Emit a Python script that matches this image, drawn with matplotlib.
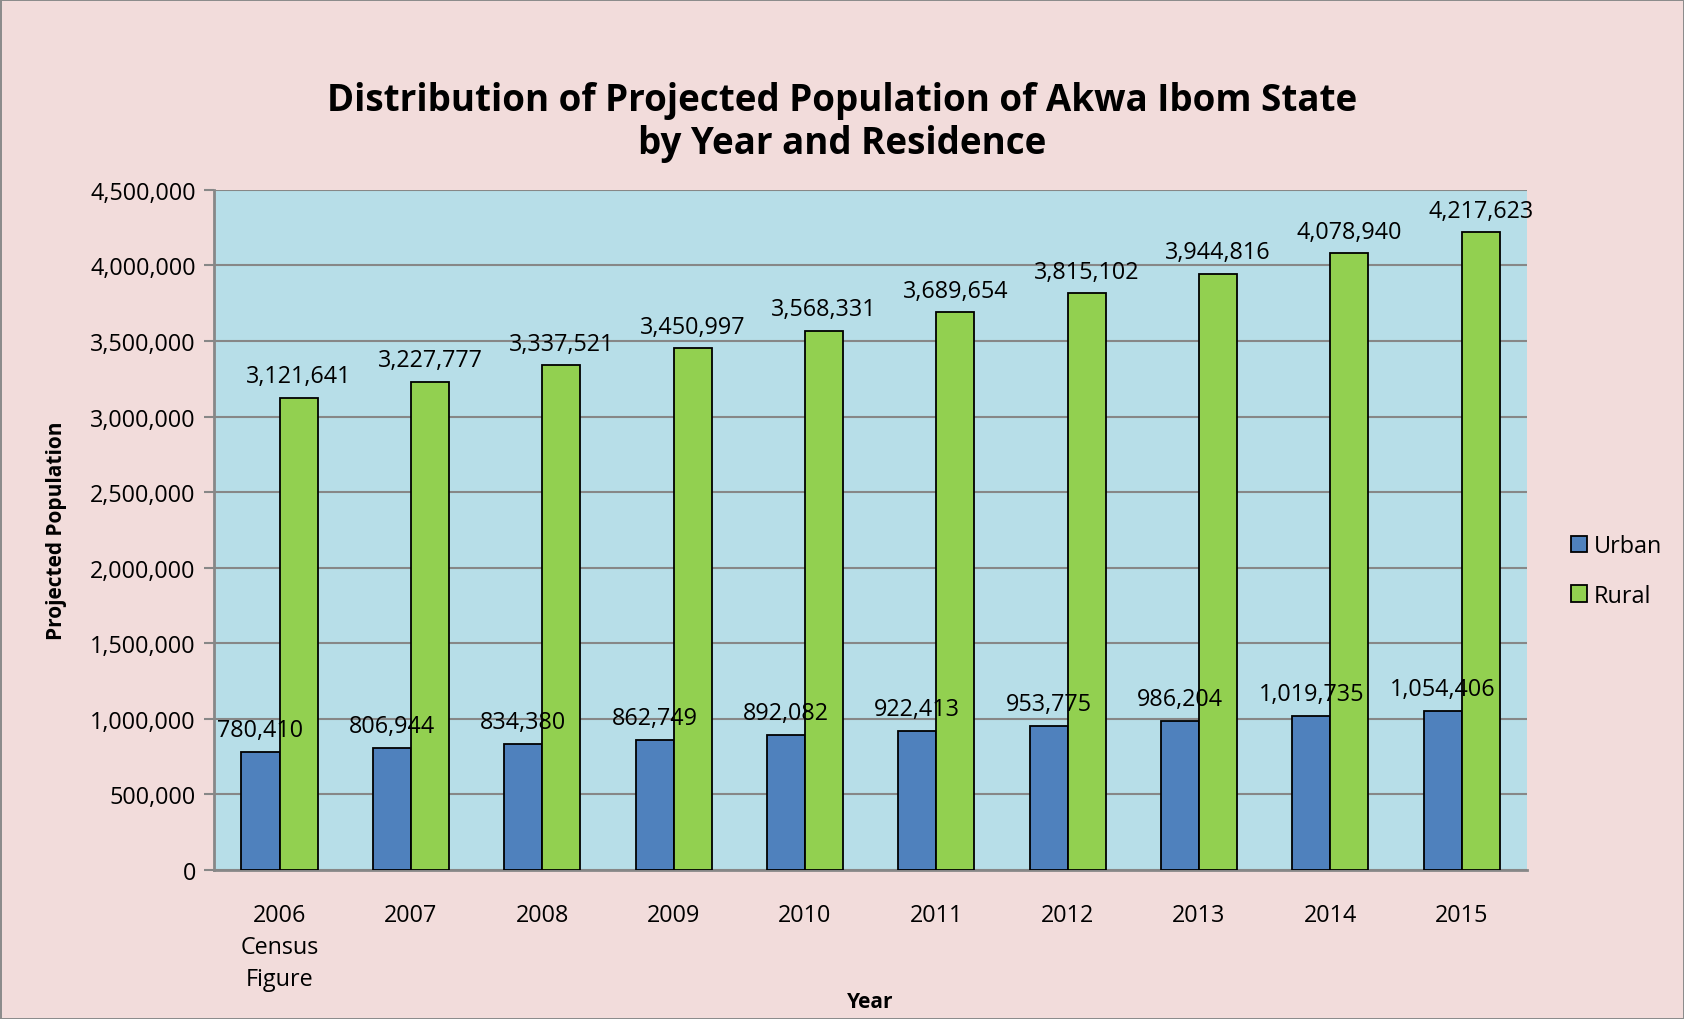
import matplotlib.pyplot as plt
import numpy as np
from matplotlib.ticker import FuncFormatter

years = ['2006\nCensus\nFigure', '2007', '2008', '2009', '2010',
         '2011', '2012', '2013', '2014', '2015']
urban = [780410, 806944, 834380, 862749, 892082,
         922413, 953775, 986204, 1019735, 1054406]
rural = [3121641, 3227777, 3337521, 3450997, 3568331,
         3689654, 3815102, 3944816, 4078940, 4217623]

FONT = ['Open Sans', 'DejaVu Sans']


def main():
    fig = plt.figure(figsize=(16.84, 10.2), dpi=100, facecolor='#F2DCDB',
                     edgecolor='#8C8C8C', linewidth=2)
    ax = fig.add_axes([0.127, 0.146, 0.780, 0.667])
    ax.set_facecolor('#B7DEE8')

    x = np.arange(len(years))
    w = 0.29
    b1 = ax.bar(x - w / 2, urban, w, color='#4F81BD', edgecolor='black',
                linewidth=1.3, label='Urban', zorder=3)
    b2 = ax.bar(x + w / 2, rural, w, color='#92D050', edgecolor='black',
                linewidth=1.3, label='Rural', zorder=3)

    for bars in (b1, b2):
        ax.bar_label(bars, labels=[f'{v:,}' for v in bars.datavalues],
                     padding=7, fontsize=16.8, family=FONT, zorder=4)

    ax.set_ylim(0, 4500000)
    ax.set_yticks(np.arange(0, 4500001, 500000))
    ax.yaxis.set_major_formatter(FuncFormatter(lambda v, p: f'{int(v):,}'))
    ax.set_xlim(-0.5, len(years) - 0.5)
    ax.set_xticks(x)
    ax.set_xticklabels(years, fontsize=16.8, family=FONT, linespacing=1.42)
    for lab in ax.get_yticklabels():
        lab.set_fontsize(16.8)
        lab.set_family(FONT)
    ax.tick_params(axis='x', length=0, pad=24)
    ax.tick_params(axis='y', length=7, width=1.5, color='#878787', pad=6)
    ax.grid(axis='y', color='#878787', linewidth=1.5, zorder=0)
    for side in ('top', 'right'):
        ax.spines[side].set_visible(False)
    for side in ('left', 'bottom'):
        ax.spines[side].set_color('#878787')
        ax.spines[side].set_linewidth(2)

    ax.set_ylabel('Projected Population', fontsize=15, fontweight='bold',
                  family=FONT, labelpad=17)
    ax.set_xlabel('Year', fontsize=15, fontweight='bold', family=FONT)
    ax.xaxis.set_label_coords(0.5, -0.193)
    ax.xaxis.label.set_va('center')

    fig.suptitle('Distribution of Projected Population of Akwa Ibom State\n'
                 'by Year and Residence', x=0.5, y=0.92, fontsize=26.5,
                 fontweight='bold', family=FONT, linespacing=1.17)

    ax.legend(loc='center left', bbox_to_anchor=(1.017, 0.44), frameon=False,
              prop={'family': FONT, 'size': 16.8},
              handlelength=0.7, handleheight=0.7, handletextpad=0.3,
              labelspacing=1.1)

    fig.savefig('out.png', facecolor=fig.get_facecolor(),
                edgecolor=fig.get_edgecolor())


if __name__ == '__main__':
    main()
